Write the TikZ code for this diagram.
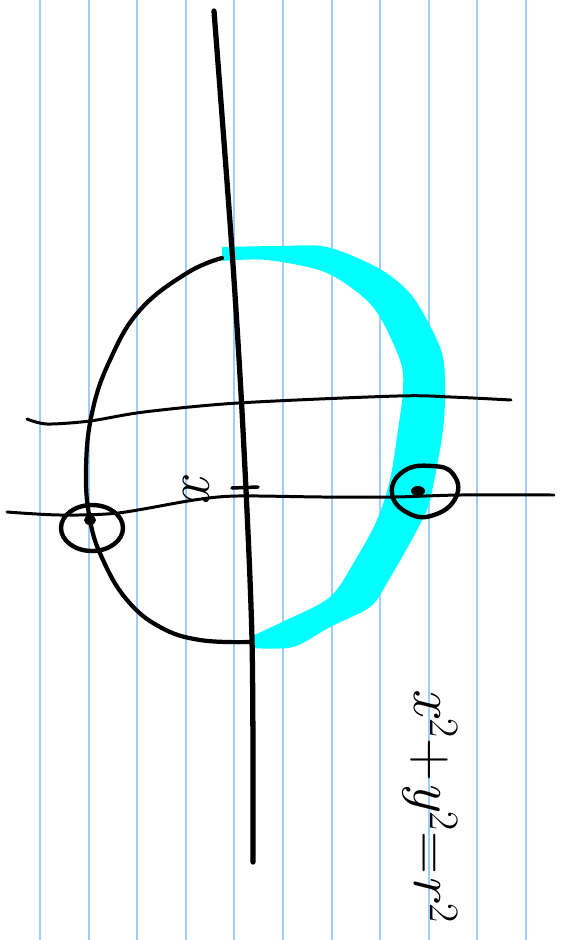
\documentclass[tikz,border=0pt]{standalone}
\usepackage{amsmath}
\usepackage{tikz}
\usetikzlibrary{calc}
\definecolor{ruling}{RGB}{160,205,255}
\definecolor{ink}{RGB}{0,0,0}
\definecolor{marker}{RGB}{0,255,255}
\tikzset{
  rule/.style={draw=ruling,line width=1.1pt},
  axis/.style={draw=ink,line width=3pt,line cap=round},
  curve/.style={draw=ink,line width=2.4pt,line cap=round},
  level/.style={draw=ink,line width=1.7pt,line cap=round},
  ring/.style={draw=ink,line width=2.5pt},
  scrawl/.style={font=\fontsize{34}{34}\selectfont,rotate=-90,inner sep=0pt}
}
\newcommand{\sq}{\textsuperscript{2}}

\begin{document}
\begin{tikzpicture}[x=0.02cm,y=-0.02cm]
  \useasboundingbox (0,0) rectangle (564,940);
  \fill[white] (0,0) rectangle (564,940);

  % ruled paper
  \foreach \k in {0,...,10}
    \draw[rule] ({40+48.6*\k},0) -- ({40+48.6*\k},940);

  % half traced in marker
  \fill[marker] plot[smooth,tension=0.5] coordinates {(222,247) (280,246) (327,247) (380,269) (413,297) (440,347) (445,380) (443,430) (430,500) (417,530) (387,583) (370,607) (330,627) (293,647) (250,648)}
    -- plot[smooth,tension=0.5] coordinates {(250,637) (280,623) (330,597) (357,557) (377,520) (390,480) (398,430) (403,390) (400,360) (373,307) (327,273) (267,260) (222,261)}
    -- cycle;

  % other half of the circle
  \draw[curve] plot[smooth,tension=0.7] coordinates {(222,258) (187,273) (140,310) (110,360) (92,413) (86,470) (90,520) (103,560) (127,600) (160,627) (200,640) (250,642)};

  % axis
  \draw[axis] plot[smooth] coordinates {(214,11) (232,250) (243,430) (252,640) (253,862)};

  % horizontal cuts
  \draw[level] plot[smooth] coordinates {(27,419) (47,424) (90,421) (144,412) (238,403) (397,396) (451,397) (511,400)};
  \draw[level] plot[smooth] coordinates {(7,512) (60,515) (118,513) (194,500) (237,496) (323,497) (394,497) (460,495) (554,495)};
  \coordinate (mark) at (245,488);
  \draw[level,line width=2pt] ($(mark)+(-13,0)$) -- ($(mark)+(13,-1)$);

  % intersection points
  \coordinate (left) at (92,528);
  \coordinate (right) at (424,491);
  \draw[ring] (left) ellipse [x radius=31,y radius=23];
  \draw[ring] plot[smooth cycle,tension=0.8] coordinates {($(right)+(-32,2)$) ($(right)+(-20,-20)$) ($(right)+(8,-25)$) ($(right)+(29,-17)$) ($(right)+(32,6)$) ($(right)+(10,24)$) ($(right)+(-16,22)$)};
  \fill[ink] (90,520) ellipse [x radius=6,y radius=5];
  \fill[ink] (418,491) ellipse [x radius=7,y radius=5];

  % labels
  \node[scrawl] (xlabel) at (196,488) {\textit{x}};
  \node[scrawl] (circleeq) at (430,806) {\textit{x}\sq+\textit{y}\sq=\textit{r}\sq};
\end{tikzpicture}
\end{document}
